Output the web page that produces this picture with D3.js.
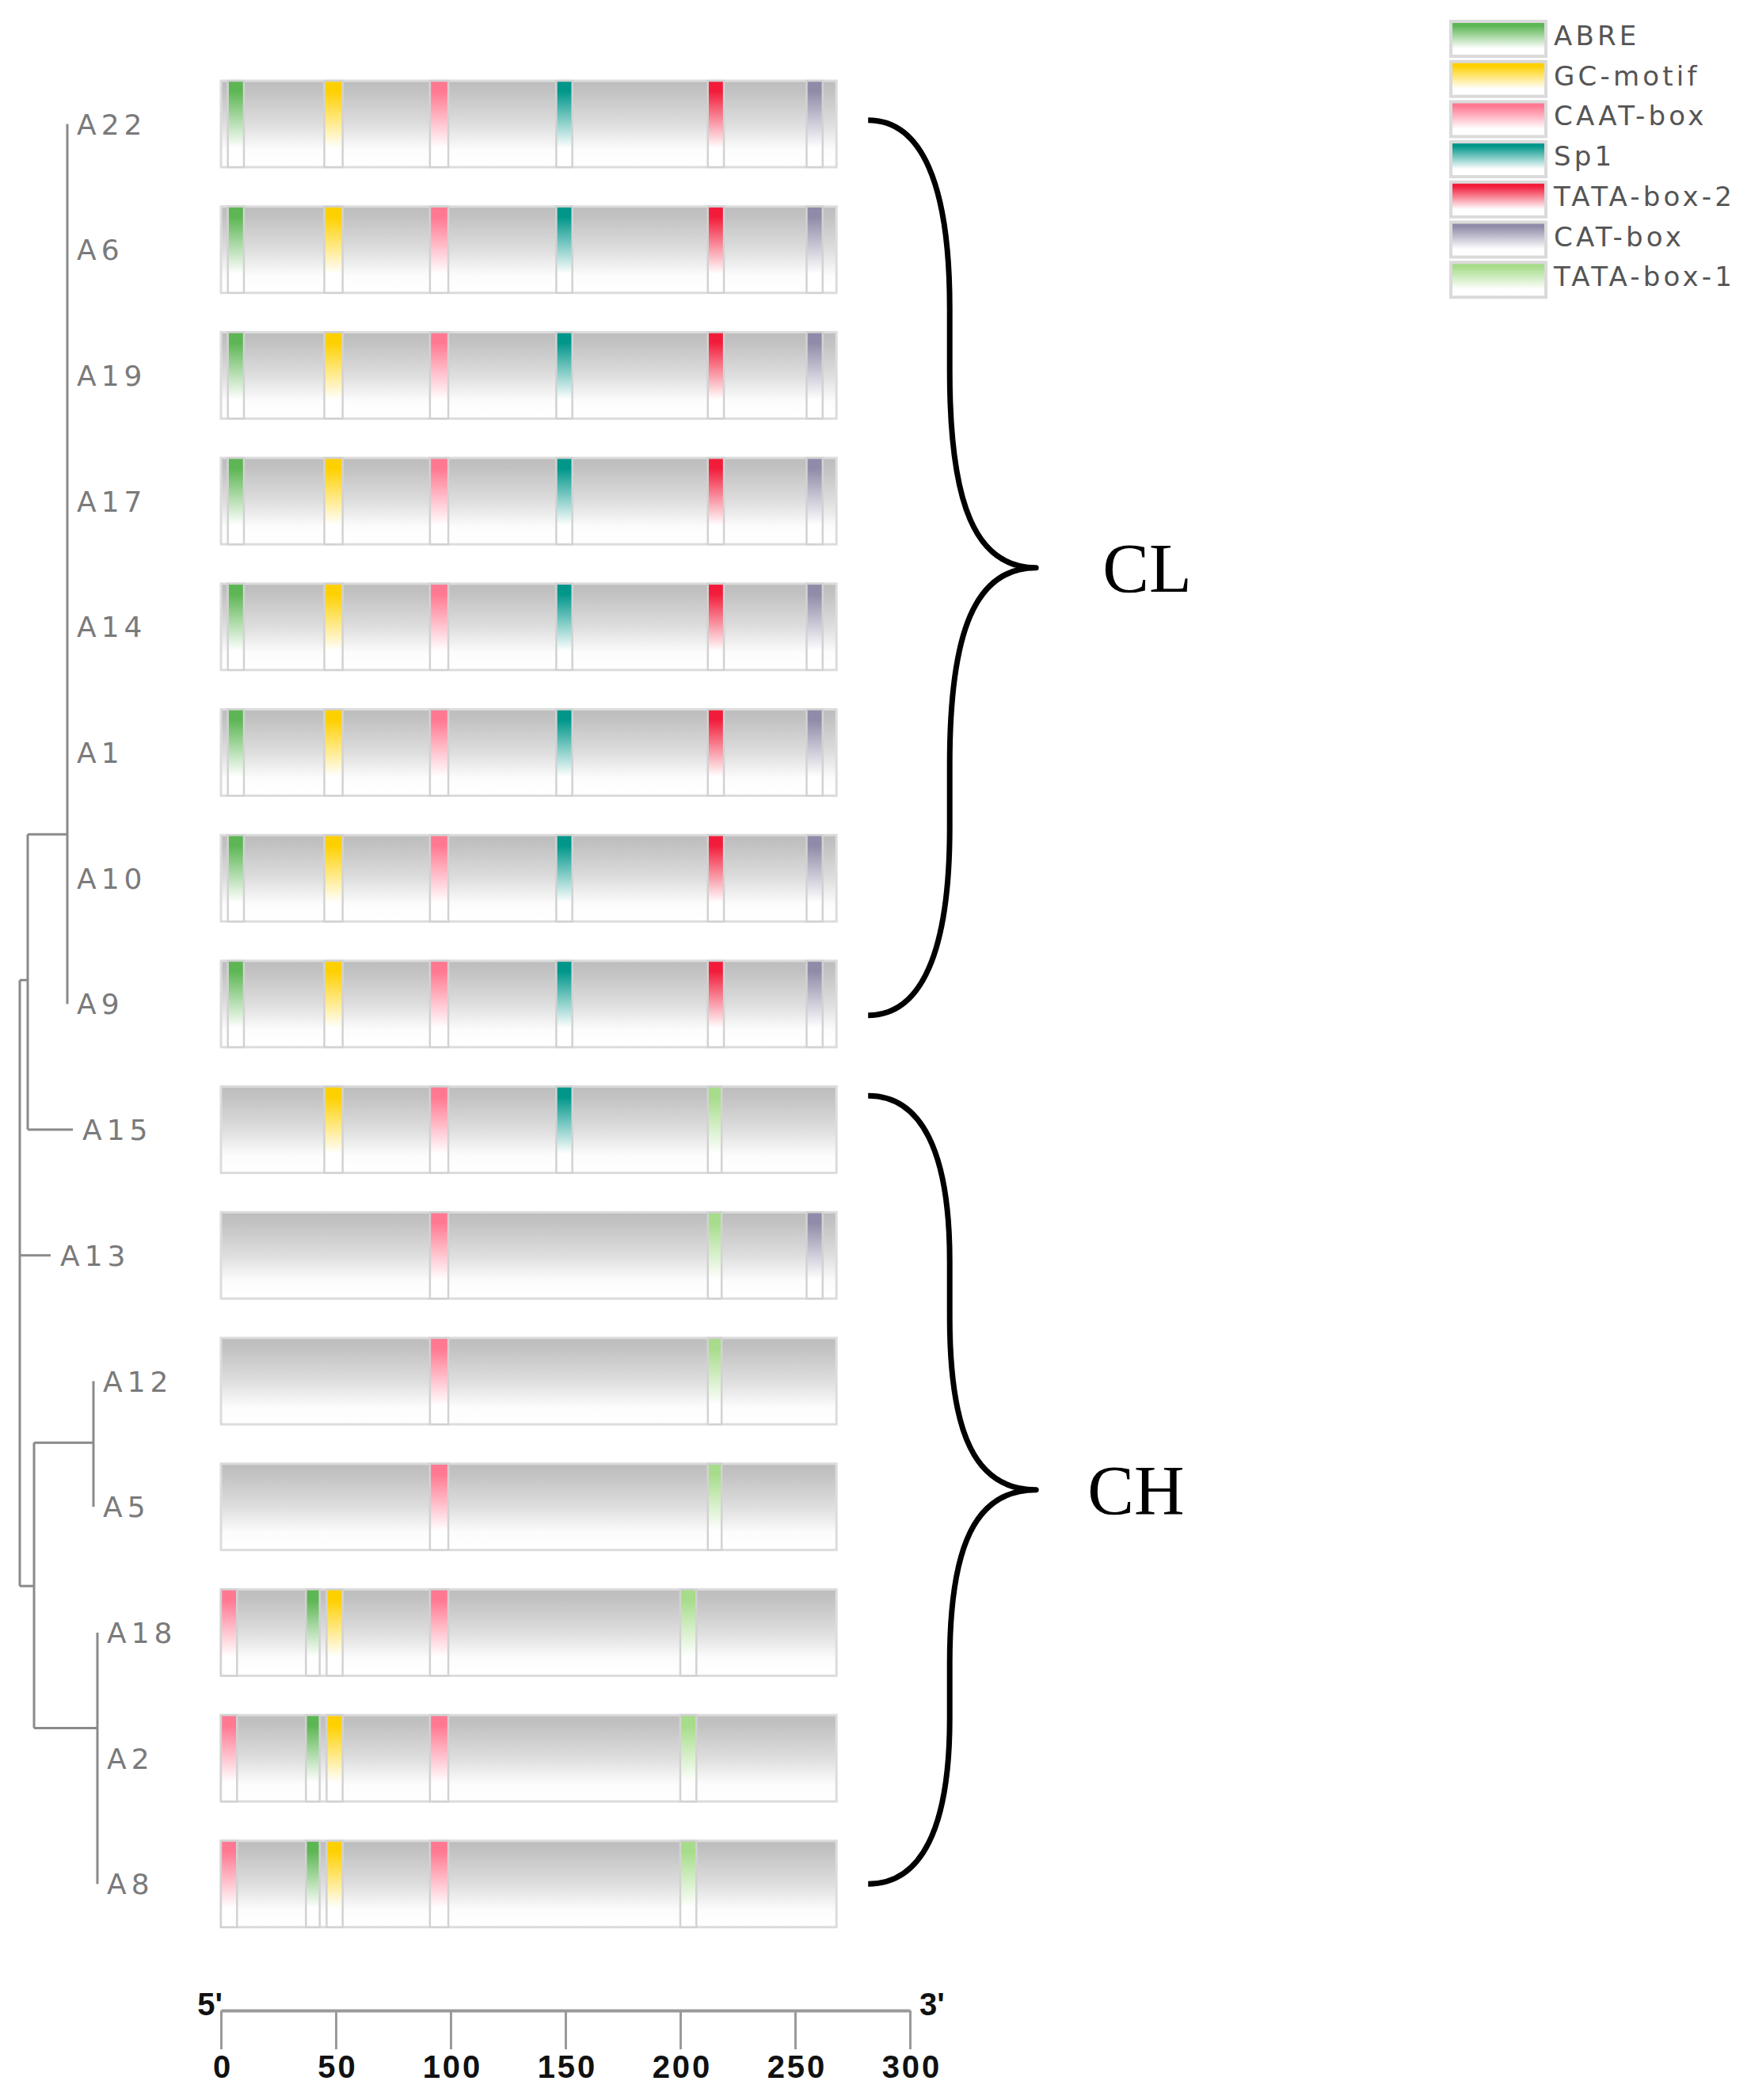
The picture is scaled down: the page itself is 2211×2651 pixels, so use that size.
<!DOCTYPE html>
<html>
<head>
<meta charset="utf-8">
<script src="https://cdn.jsdelivr.net/npm/d3@7"></script>
<style>
  html, body { margin: 0; padding: 0; background: #ffffff; }
  svg { display: block; }
</style>
</head>
<body>
<script>
// ---------------- DATA ----------------
const genes = ["A22","A6","A19","A17","A14","A1","A10","A9","A15","A13","A12","A5","A18","A2","A8"];
const seqLength = 268;
const axisTicks = [0, 50, 100, 150, 200, 250, 300];
const axisDomain = [0, 300];

const motifTypes  = ["ABRE","GC-motif","CAAT-box","Sp1","TATA-box-2","CAT-box","TATA-box-1"];
const motifColors = ["#5cb653","#ffd000","#ff7891","#00968a","#f21c3a","#8f8ba8","#a6dc8a"];

// motif sites per gene: [type, start, end]
const clSites  = [["ABRE",3,10],["GC-motif",45,53],["CAAT-box",91,99],["Sp1",146,153],["TATA-box-2",212,219],["CAT-box",255,262]];
const a15Sites = [["GC-motif",45,53],["CAAT-box",91,99],["Sp1",146,153],["TATA-box-1",212,218]];
const a13Sites = [["CAAT-box",91,99],["TATA-box-1",212,218],["CAT-box",255,262]];
const a12Sites = [["CAAT-box",91,99],["TATA-box-1",212,218]];
const a18Sites = [["CAAT-box",0,7],["ABRE",37,43],["GC-motif",46,53],["CAAT-box",91,99],["TATA-box-1",200,207]];
const geneSites = {
  A22: clSites, A6: clSites, A19: clSites, A17: clSites, A14: clSites, A1: clSites, A10: clSites, A9: clSites,
  A15: a15Sites, A13: a13Sites, A12: a12Sites, A5: a12Sites, A18: a18Sites, A2: a18Sites, A8: a18Sites
};

// tree: dist = cumulative branch length from root, row = vertical position (in row units) for internal nodes
const tree = {
  name: "root", dist: 0, row: 6.81, children: [
    { name: "N1", dist: 0.10, row: 6.81, children: [
      { name: "CL", dist: 0.60, row: 5.65, children: ["A22","A6","A19","A17","A14","A1","A10","A9"].map(n => ({name: n, dist: 0.60})) },
      { name: "A15", dist: 0.67 }
    ]},
    { name: "A13", dist: 0.39 },
    { name: "N3", dist: 0.18, row: 11.63, children: [
      { name: "N4", dist: 0.93, row: 10.49, children: [{name: "A12", dist: 0.93}, {name: "A5", dist: 0.93}] },
      { name: "N5", dist: 0.98, row: 12.76, children: [{name: "A18", dist: 0.98}, {name: "A2", dist: 0.98}, {name: "A8", dist: 0.98}] }
    ]}
  ]
};

const groups = [
  { name: "CL", first: "A22", last: "A9", topOff: -0.03, botOff: 0.09, textDx: 0 },
  { name: "CH", first: "A15", last: "A8", topOff: -0.27, botOff: 0.0, textDx: -19 }
];

// ---------------- LAYOUT ----------------
const W = 2211, H = 2651;
const svg = d3.select("body").append("svg").attr("width", W).attr("height", H);
svg.append("rect").attr("width", W).attr("height", H).attr("fill", "#fff");

const x = d3.scaleLinear().domain(axisDomain).range([279, 1149]);
const rowY = d3.scaleLinear().domain([0, genes.length - 1]).range([156.5, 2378.3]);
const barH = 109;
const treeX = d3.scaleLinear().domain([0, 1]).range([25, 125]);
const color = d3.scaleOrdinal().domain(motifTypes).range(motifColors);

// gradients
const defs = svg.append("defs");
const bg = defs.append("linearGradient").attr("id", "barGrad").attr("x1", 0).attr("y1", 0).attr("x2", 0).attr("y2", 1);
bg.append("stop").attr("offset", "0").attr("stop-color", "#bdbdbd");
bg.append("stop").attr("offset", "0.12").attr("stop-color", "#c2c2c2");
bg.append("stop").attr("offset", "0.5").attr("stop-color", "#dedede");
bg.append("stop").attr("offset", "0.8").attr("stop-color", "#fcfcfc");
bg.append("stop").attr("offset", "1").attr("stop-color", "#ffffff");

motifTypes.forEach((t, i) => {
  const g = defs.append("linearGradient").attr("id", "mg" + i).attr("x1", 0).attr("y1", 0).attr("x2", 0).attr("y2", 1);
  g.append("stop").attr("offset", "0").attr("stop-color", color(t));
  g.append("stop").attr("offset", "0.12").attr("stop-color", color(t));
  g.append("stop").attr("offset", "0.78").attr("stop-color", "#ffffff");
  g.append("stop").attr("offset", "1").attr("stop-color", "#ffffff");
});

// ---------------- GENE BARS ----------------
const rows = svg.append("g").selectAll("g.row").data(genes).join("g")
  .attr("class", "row")
  .attr("transform", (d, i) => `translate(0,${rowY(i) - barH / 2})`);

rows.append("rect")
  .attr("x", x(0)).attr("y", 0)
  .attr("width", x(seqLength) - x(0)).attr("height", barH)
  .attr("fill", "url(#barGrad)")
  .attr("stroke", "#dcdcdc").attr("stroke-width", 3);

rows.selectAll("rect.motif").data(d => geneSites[d]).join("rect")
  .attr("class", "motif")
  .attr("x", d => x(d[1])).attr("y", 0)
  .attr("width", d => x(d[2]) - x(d[1])).attr("height", barH)
  .attr("fill", d => `url(#mg${motifTypes.indexOf(d[0])})`)
  .attr("stroke", "#d2d2d2").attr("stroke-width", 2.5);

// ---------------- TREE ----------------
const root = d3.hierarchy(tree);
root.each(n => {
  n.px = treeX(n.data.dist);
  n.py = n.children ? rowY(n.data.row) : rowY(genes.indexOf(n.data.name));
});
const tg = svg.append("g").attr("stroke", "#8a8a8a").attr("stroke-width", 3).attr("fill", "none");
root.each(n => {
  if (!n.children) return;
  const ys = n.children.map(c => c.py);
  tg.append("line").attr("x1", n.px).attr("x2", n.px).attr("y1", d3.min(ys)).attr("y2", d3.max(ys));
  n.children.forEach(c => {
    if (c.px > n.px) tg.append("line").attr("x1", n.px).attr("x2", c.px).attr("y1", c.py).attr("y2", c.py);
  });
});
svg.append("g").selectAll("text").data(root.leaves()).join("text")
  .attr("x", d => d.px + 12)
  .attr("y", d => d.py + 13)
  .attr("font-family", "DejaVu Sans, sans-serif")
  .attr("font-size", 36)
  .attr("letter-spacing", 6)
  .attr("fill", "#7a7a7a")
  .text(d => d.data.name);

// ---------------- BRACKETS ----------------
const bx0 = x(seqLength) + 40, bxm = x(seqLength) + 143, bxp = x(seqLength) + 252;
function bracePath(y0, y1) {
  const ym = (y0 + y1) / 2, h = ym - y0;
  const p = d3.path();
  p.moveTo(bx0, y0);
  p.bezierCurveTo(bx0 + 0.65 * (bxm - bx0), y0, bxm, y0 + 0.14 * h, bxm, y0 + 0.42 * h);
  p.lineTo(bxm, y0 + 0.56 * h);
  p.bezierCurveTo(bxm, y0 + 0.86 * h, bxm + 0.3 * (bxp - bxm), ym, bxp, ym);
  p.bezierCurveTo(bxm + 0.3 * (bxp - bxm), ym, bxm, y1 - 0.86 * h, bxm, y1 - 0.56 * h);
  p.lineTo(bxm, y1 - 0.42 * h);
  p.bezierCurveTo(bxm, y1 - 0.14 * h, bx0 + 0.65 * (bxm - bx0), y1, bx0, y1);
  return p.toString();
}
groups.forEach(g => {
  const y0 = rowY(genes.indexOf(g.first) + g.topOff);
  const y1 = rowY(genes.indexOf(g.last) + g.botOff);
  svg.append("path").attr("d", bracePath(y0, y1))
    .attr("fill", "none").attr("stroke", "#000").attr("stroke-width", 7).attr("stroke-linejoin", "round");
  svg.append("text")
    .attr("x", bxp + 84 + g.textDx).attr("y", (y0 + y1) / 2 + 30)
    .attr("font-family", "Liberation Serif, Times New Roman, serif")
    .attr("font-size", 88).attr("fill", "#000")
    .text(g.name);
});

// ---------------- AXIS ----------------
const axisY = 2538;
const axisFont = "Liberation Sans Narrow, Liberation Sans, Arial, sans-serif";
const axis = d3.axisBottom(x).tickValues(axisTicks).tickSize(49).tickSizeOuter(0).tickPadding(8);
const ag = svg.append("g").attr("transform", `translate(0,${axisY})`).call(axis);
ag.select(".domain").attr("stroke", "#9a9a9a").attr("stroke-width", 4);
ag.selectAll(".tick line").attr("stroke", "#9a9a9a").attr("stroke-width", 3);
ag.selectAll(".tick text")
  .attr("font-family", axisFont).attr("font-weight", "bold")
  .attr("font-size", 40).attr("fill", "#111").attr("letter-spacing", 3).attr("dx", 2);
svg.append("text").attr("x", x(0) + 2).attr("y", axisY + 6).attr("text-anchor", "end")
  .attr("font-family", axisFont).attr("font-weight", "bold").attr("font-size", 40).attr("fill", "#111").text("5'");
svg.append("text").attr("x", x(300) + 12).attr("y", axisY + 6)
  .attr("font-family", axisFont).attr("font-weight", "bold").attr("font-size", 40).attr("fill", "#111").text("3'");

// ---------------- LEGEND ----------------
const legX = 1832, legY0 = 27, legStep = 50.7, swW = 120, swH = 44;
const leg = svg.append("g").selectAll("g").data(motifTypes).join("g")
  .attr("transform", (d, i) => `translate(${legX},${legY0 + i * legStep})`);
leg.append("rect").attr("x", 0).attr("y", 0).attr("width", swW).attr("height", swH)
  .attr("fill", (d, i) => `url(#mg${i})`).attr("stroke", "#dadada").attr("stroke-width", 4);
leg.append("text").attr("x", swW + 10).attr("y", 30)
  .attr("font-family", "DejaVu Sans, sans-serif").attr("font-size", 34)
  .attr("letter-spacing", 4.2).attr("fill", "#555")
  .text(d => d);
</script>
</body>
</html>
